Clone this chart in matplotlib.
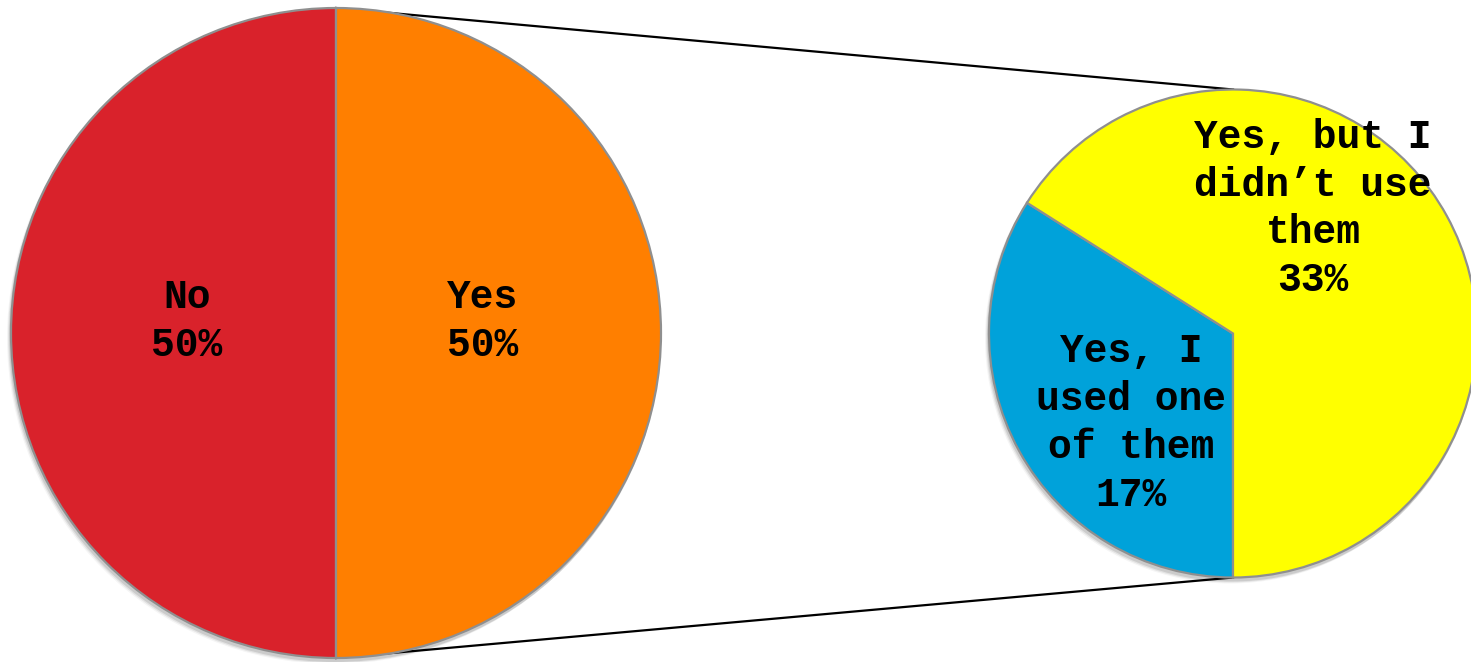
import matplotlib
matplotlib.use("Agg")
import matplotlib.pyplot as plt

# Main pie: did respondents have the option?
main_labels = ["No", "Yes"]
main_values = [50, 50]
main_colors = ["#D9222B", "#FF7F00"]

# Breakdown of the "Yes" slice
sub_labels = ["Yes, I\nused one\nof them", "Yes, but I\ndidn\u2019t use\nthem"]
sub_values = [17, 33]
sub_colors = ["#00A2DA", "#FFFF00"]

W, H = 1471, 662
fig = plt.figure(figsize=(W / 100, H / 100), dpi=100)
ax = fig.add_axes([0, 0, 1, 1])

font = dict(family=["Liberation Mono", "DejaVu Sans Mono"], weight="bold",
            fontsize=28.5, color="black", ha="center", va="center",
            linespacing=1.33, zorder=5)
edge = dict(edgecolor="#8F8F8F", linewidth=1.6)

main_c, main_r = (336, H - 333), 325
sub_c, sub_r = (1233, H - 333.5), 244

# soft shadow behind the pies
for c, r in [(main_c, main_r), (sub_c, sub_r)]:
    for k, a in enumerate([0.10, 0.07, 0.04]):
        ax.add_patch(plt.Circle((c[0] - 1 - k, c[1] - 3 - k), r + 1,
                                color="black", alpha=a, lw=0, zorder=0))

ax.pie(main_values, colors=main_colors, startangle=90, counterclock=True,
       center=main_c, radius=main_r, wedgeprops=edge, frame=True)

# the first breakdown wedge ends straight down, under the centre
sub_start = 270 - 360 * sub_values[0] / sum(sub_values)
ax.pie(sub_values, colors=sub_colors, startangle=sub_start, counterclock=True,
       center=sub_c, radius=sub_r, wedgeprops=edge, frame=True)

# connector lines between the "Yes" slice and the breakdown pie
ax.plot([main_c[0], sub_c[0]], [main_c[1] + main_r, sub_c[1] + sub_r],
        color="black", lw=1.6, zorder=0.5)
ax.plot([main_c[0], sub_c[0]], [main_c[1] - main_r, sub_c[1] - sub_r],
        color="black", lw=1.6, zorder=0.5)

total_main = sum(main_values)
ax.text(187, H - 321, f"{main_labels[0]}\n{main_values[0] * 100 // total_main}%", **font)
ax.text(483, H - 321, f"{main_labels[1]}\n{main_values[1] * 100 // total_main}%", **font)
ax.text(1131, H - 423, f"{sub_labels[0]}\n{sub_values[0]}%", **font)
ax.text(1313, H - 208.5, f"{sub_labels[1]}\n{sub_values[1]}%", **font)

ax.set_xlim(0, W)
ax.set_ylim(0, H)
ax.set_aspect("auto")
ax.axis("off")

fig.savefig("out.png", dpi=100)
